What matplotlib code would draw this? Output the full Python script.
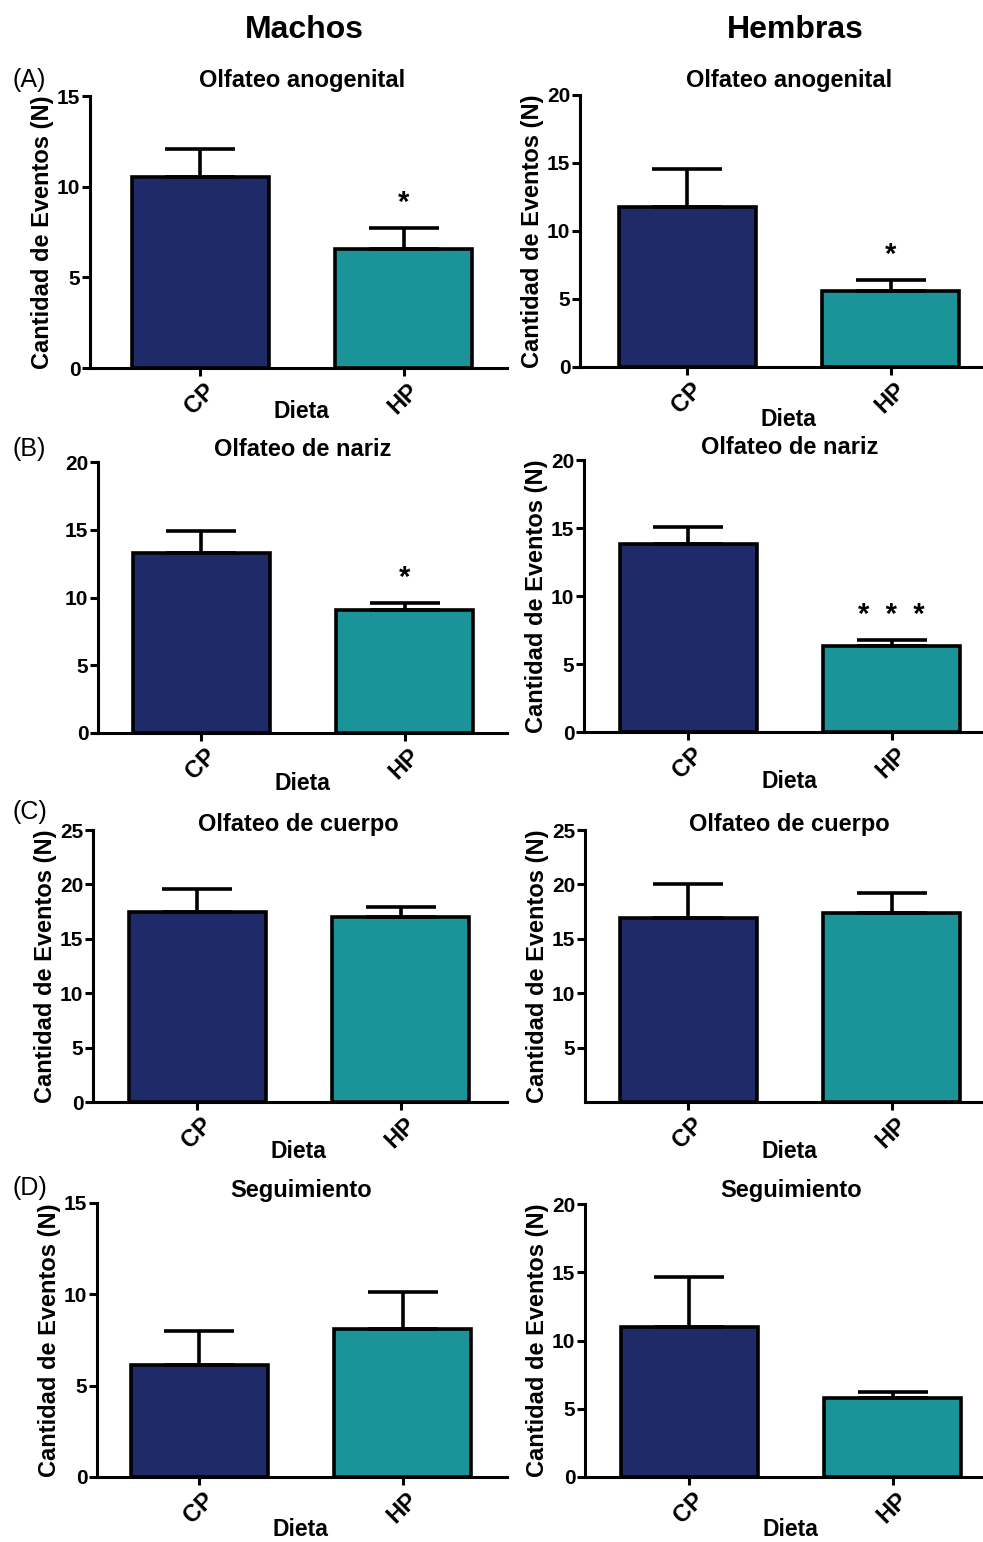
import matplotlib
matplotlib.use("Agg")
import matplotlib.pyplot as plt
import numpy as np

plt.rcParams['font.family'] = ['Liberation Sans', 'DejaVu Sans']

# ---------------- data ----------------
categories = ["CP", "HP"]
panel_letters = ["(A)", "(B)", "(C)", "(D)"]
titles = ["Olfateo anogenital", "Olfateo de nariz", "Olfateo de cuerpo", "Seguimiento"]
column_titles = ["Machos", "Hembras"]

# Machos (males): mean and SEM per behaviour, [CP, HP]
machos_mean = [[10.55, 6.56], [13.28, 9.05], [17.48, 16.99], [6.13, 8.10]]
machos_sem = [[1.53, 1.18], [1.60, 0.54], [2.06, 0.95], [1.88, 2.02]]
machos_sig = ["*", "*", "", ""]
machos_ymax = [15, 20, 25, 15]
machos_yticks = [[0, 5, 10, 15], [0, 5, 10, 15, 20], [0, 5, 10, 15, 20, 25], [0, 5, 10, 15]]

# Hembras (females)
hembras_mean = [[11.74, 5.61], [13.80, 6.31], [16.93, 17.39], [11.01, 5.76]]
hembras_sem = [[2.80, 0.76], [1.25, 0.44], [3.10, 1.84], [3.65, 0.48]]
hembras_sig = ["*", "*  *  *", "", ""]
hembras_ymax = [20, 20, 25, 20]
hembras_yticks = [[0, 5, 10, 15, 20], [0, 5, 10, 15, 20], [5, 10, 15, 20, 25], [0, 5, 10, 15, 20]]

ylabel = "Cantidad de Eventos (N)"
xlabel = "Dieta"
show_ylabel = [[True, False, True, True], [True, True, True, True]]

colors = ["#1f2b69", "#1b9499"]

# ---------------- layout (pixels) ----------------
W, H = 983, 1542
fig = plt.figure(figsize=(W / 100, H / 100), dpi=100)

# (left, top, right, bottom, CP-centre) per row, per column
boxes = [
    [(90, 96, 507, 368, 200), (98, 462, 507, 733, 201), (93, 830, 507, 1102, 197), (97, 1203, 507, 1477, 199)],
    [(580, 95, 983, 367, 687), (584, 460, 983, 732, 688), (585, 830, 983, 1102, 688), (585, 1204, 983, 1477, 689)],
]
spacing = 203.5
bar_w = 137 / spacing

def fx(px):
    return px / W

def fy(py):
    return 1 - py / H

means = [machos_mean, hembras_mean]
sems = [machos_sem, hembras_sem]
sigs = [machos_sig, hembras_sig]
ymaxs = [machos_ymax, hembras_ymax]
yticks_all = [machos_yticks, hembras_yticks]

lw_axis = 2.2
lw_bar = 2.6

xl_offsets = [[44, 51, 50, 53], [52, 49, 50, 52]]
title_y = [[80, 449, 824, 1190], [80, 447, 825, 1191]]

for col in range(2):
    for row in range(4):
        L, T, R, B, c0 = boxes[col][row]
        ax = fig.add_axes([fx(L), fy(B), fx(R) - fx(L), (B - T) / H])
        x = np.arange(len(categories))
        m = np.array(means[col][row])
        s = np.array(sems[col][row])
        ax.bar(x, m, width=bar_w, color=colors, edgecolor="black", linewidth=lw_bar, zorder=2)
        ax.errorbar(x, m, yerr=[np.zeros_like(s), s], fmt="none", ecolor="black",
                    elinewidth=lw_bar, capsize=25, capthick=lw_bar, zorder=3)
        ax.set_xlim((L - c0) / spacing, (R - c0) / spacing)
        ax.set_ylim(0, ymaxs[col][row])
        ax.set_yticks(yticks_all[col][row])
        ax.set_xticks(x)
        ax.set_xticklabels(categories, rotation=45, fontsize=17, fontweight="bold")
        for lab in ax.get_yticklabels():
            lab.set_fontsize(15)
            lab.set_fontweight("bold")
        for sp in ["top", "right"]:
            ax.spines[sp].set_visible(False)
        for sp in ["left", "bottom"]:
            ax.spines[sp].set_linewidth(lw_axis)
        ax.tick_params(axis="both", direction="out", length=6, width=lw_axis, pad=1)
        ax.tick_params(axis="x", pad=2)
        ax.set_facecolor("none")

        # significance
        sig = sigs[col][row]
        if sig:
            ax.annotate(sig, (1, m[1] + s[1]), xytext=(0, 18), textcoords="offset points",
                        ha="center", va="center", fontsize=21, fontweight="bold")

        # y label
        if show_ylabel[col][row]:
            ax.set_ylabel(ylabel, fontsize=17, fontweight="bold")
            ax.yaxis.set_label_coords(-36 / (R - L), 0.5)

        # x label
        xo = xl_offsets[col][row]
        ax.text(0.5, -xo / (B - T), xlabel, transform=ax.transAxes, ha="center", va="center",
                fontsize=16.5, fontweight="bold")
        ax.texts[-1].set_transform(ax.get_xaxis_transform())

        # title
        fig.text(fx(c0 + spacing * 0.5), fy(title_y[col][row]), titles[row],
                 ha="center", va="center", fontsize=17, fontweight="bold")

# panel letters
letter_y = [80, 449, 812, 1188]
for lab, py in zip(panel_letters, letter_y):
    fig.text(fx(13), fy(py), lab, ha="left", va="center", fontsize=18)

# column titles
fig.text(fx(304), fy(30), column_titles[0], ha="center", va="center", fontsize=23, fontweight="bold")
fig.text(fx(795), fy(30), column_titles[1], ha="center", va="center", fontsize=23, fontweight="bold")

fig.savefig("out.png", dpi=100, facecolor="white")
